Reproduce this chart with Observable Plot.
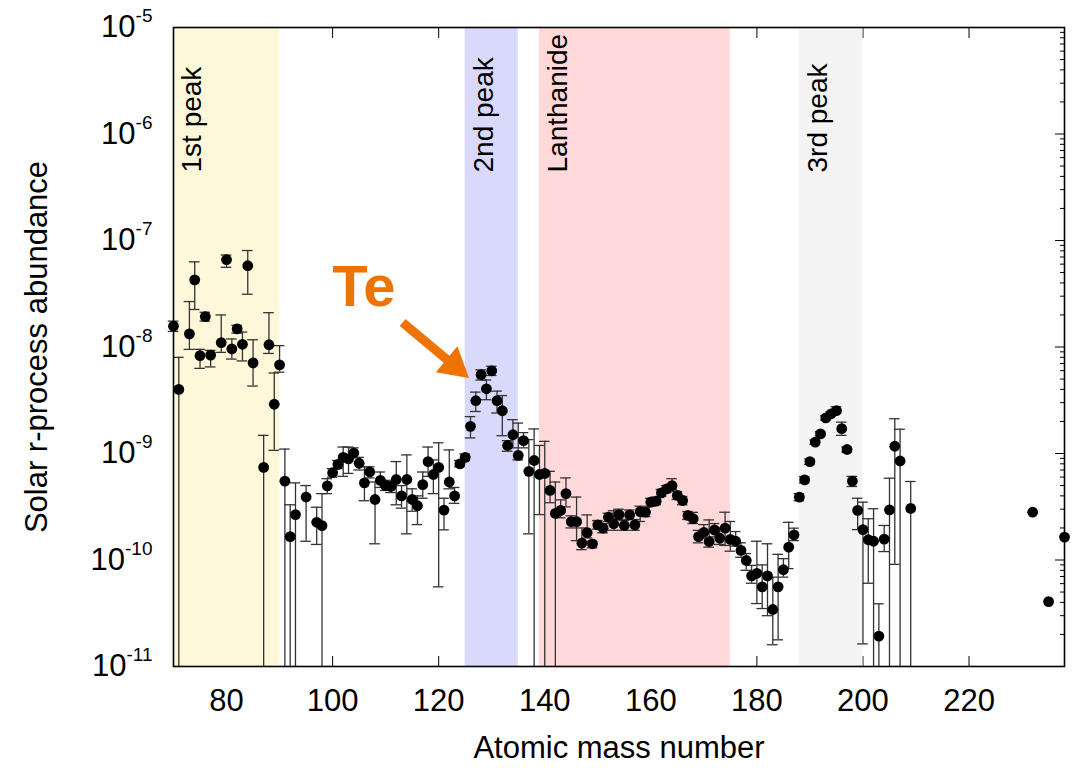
<!DOCTYPE html>
<html>
<head>
<meta charset="utf-8">
<script src="https://cdn.jsdelivr.net/npm/d3@7"></script>
<script src="https://cdn.jsdelivr.net/npm/@observablehq/plot@0.6"></script>
<style>
  html, body { margin: 0; padding: 0; background: #fff; }
</style>
</head>
<body>
<div id="chart"></div>
<script>
// Solar r-process abundances by atomic mass number, with uncertainty ranges.
// A lower bound of 0 means the uncertainty reaches below the plotted range.
const massNumber = [
  70, 71, 73, 74, 75, 76, 77, 79, 80, 81, 82, 83, 84, 85, 87, 88, 89, 90,
  91, 92, 93, 95, 97, 98, 99, 100, 101, 102, 103, 104, 105, 106, 107, 108, 109, 110,
  111, 112, 113, 114, 115, 116, 117, 118, 119, 120, 121, 122, 123, 124, 125, 126, 127, 128,
  129, 130, 131, 132, 133, 134, 135, 136, 137, 138, 139, 140, 141, 142, 143, 144, 145, 146,
  147, 148, 149, 150, 151, 152, 153, 154, 155, 156, 157, 158, 159, 160, 161, 162, 163, 164,
  165, 166, 167, 168, 169, 170, 171, 172, 173, 174, 175, 176, 177, 178, 179, 180, 181, 182,
  183, 184, 185, 186, 187, 188, 189, 190, 191, 192, 193, 194, 195, 196, 197, 198, 199, 200,
  201, 202, 203, 204, 205, 206, 207, 209, 232, 235, 238
];
const abundance = [
  1.57e-8, 4.0e-9, 1.33e-8, 4.27e-8, 8.3e-9, 1.93e-8, 8.4e-9, 1.10e-8, 6.6e-8, 9.6e-9, 1.48e-8, 1.06e-8, 5.8e-8, 7.1e-9, 7.4e-10, 1.05e-8, 2.9e-9, 6.8e-9,
  5.5e-10, 1.66e-10, 2.67e-10, 3.9e-10, 2.26e-10, 2.1e-10, 4.97e-10, 6.6e-10, 7.9e-10, 9.2e-10, 8.9e-10, 1.01e-9, 8.1e-10, 5.3e-10, 6.7e-10, 3.7e-10, 5.6e-10, 5.0e-10,
  4.9e-10, 5.7e-10, 4.0e-10, 5.7e-10, 3.7e-10, 3.23e-10, 5.1e-10, 8.4e-10, 6.35e-10, 7.4e-10, 2.94e-10, 5.4e-10, 4.0e-10, 8.0e-10, 9.2e-10, 1.8e-9, 3.13e-9, 5.5e-9,
  4.05e-9, 5.98e-9, 3.13e-9, 2.52e-9, 1.19e-9, 1.5e-9, 9.6e-10, 1.32e-9, 6.8e-10, 8.6e-10, 6.35e-10, 6.5e-10, 4.5e-10, 2.74e-10, 2.92e-10, 4.2e-10, 2.29e-10, 2.29e-10,
  1.44e-10, 1.81e-10, 1.42e-10, 2.14e-10, 1.99e-10, 2.52e-10, 2.19e-10, 2.67e-10, 2.11e-10, 2.65e-10, 2.14e-10, 2.85e-10, 2.81e-10, 3.49e-10, 3.57e-10, 4.27e-10, 4.66e-10, 5.0e-10,
  4.04e-10, 3.62e-10, 2.62e-10, 2.44e-10, 1.66e-10, 1.82e-10, 1.49e-10, 1.92e-10, 1.6e-10, 1.99e-10, 1.56e-10, 1.5e-10, 1.23e-10, 9.9e-11, 7.1e-11, 7.5e-11, 5.6e-11, 7.1e-11,
  3.43e-11, 5.6e-11, 8.1e-11, 1.32e-10, 1.72e-10, 3.89e-10, 5.66e-10, 8.4e-10, 1.28e-9, 1.53e-9, 2.16e-9, 2.36e-9, 2.53e-9, 1.71e-9, 1.09e-9, 5.5e-10, 2.92e-10, 1.93e-10,
  1.55e-10, 1.5e-10, 1.93e-11, 1.57e-10, 2.96e-10, 1.17e-9, 8.5e-10, 3.05e-10, 2.81e-10, 4.07e-11, 1.64e-10
];
const errLow = [
  1.40e-8, 0, 9.5e-9, 2.25e-8, 6.3e-9, 1.75e-8, 6.5e-9, 8.9e-9, 5.6e-8, 7.7e-9, 1.35e-8, 7.4e-9, 3.13e-8, 4.3e-9, 0, 8.7e-9, 1.07e-9, 5.8e-9,
  0, 0, 0, 1.5e-10, 1.4e-10, 0, 4.2e-10, 6.0e-10, 7.2e-10, 6.1e-10, 6.5e-10, 9.1e-10, 7.0e-10, 3.6e-10, 5.9e-10, 1.42e-10, 4.8e-10, 4.5e-10,
  4.3e-10, 3.3e-10, 3.07e-10, 1.76e-10, 2.87e-10, 2.15e-10, 3.8e-10, 6.1e-10, 4.2e-10, 5.6e-11, 1.92e-10, 4.66e-10, 3.4e-10, 7.5e-10, 8.6e-10, 1.4e-9, 2.48e-9, 4.9e-9,
  3.2e-9, 5.4e-9, 2.4e-9, 1.47e-9, 1.05e-9, 1.13e-9, 8.7e-10, 1.13e-9, 1.76e-10, 0, 2.67e-10, 0, 3.45e-10, 0, 2.49e-10, 3.15e-10, 2.0e-10, 1.52e-10,
  1.25e-10, 1.61e-10, 1.3e-10, 1.95e-10, 1.8e-10, 2.3e-10, 1.9e-10, 2.4e-10, 1.9e-10, 2.4e-10, 1.9e-10, 2.3e-10, 2.55e-10, 3.2e-10, 3.3e-10, 3.95e-10, 4.3e-10, 4.6e-10,
  3.7e-10, 3.3e-10, 2.4e-10, 2.2e-10, 1.45e-10, 1.6e-10, 1.32e-10, 1.65e-10, 1.4e-10, 1.37e-10, 1.21e-10, 1.35e-10, 1.06e-10, 8.0e-11, 6.05e-11, 3.9e-11, 3.5e-11, 3.0e-11,
  1.6e-11, 1.78e-11, 6.9e-11, 8.3e-11, 1.52e-10, 3.6e-10, 5.3e-10, 7.9e-10, 1.22e-9, 1.46e-9, 2.06e-9, 2.26e-9, 2.4e-9, 1.48e-9, 1.03e-9, 4.9e-10, 1.93e-10, 1.63e-11,
  6.05e-11, 0, 0, 1.2e-10, 0, 9.1e-11, 0, 0, null, null, null
];
const errHigh = [
  1.75e-8, 8.0e-9, 2.67e-8, 6.3e-8, 9.5e-9, 2.12e-8, 9.3e-9, 2.0e-8, 7.3e-8, 1.19e-8, 1.6e-8, 1.38e-8, 8.05e-8, 1.17e-8, 1.48e-9, 2.1e-8, 5.7e-9, 1.03e-8,
  1.1e-9, 3.3e-10, 5.3e-10, 5.0e-10, 3.13e-10, 4.2e-10, 5.8e-10, 7.2e-10, 8.6e-10, 1.15e-9, 1.15e-9, 1.13e-9, 9.2e-10, 7.5e-10, 7.5e-10, 5.4e-10, 6.7e-10, 5.6e-10,
  5.5e-10, 8.4e-10, 5.0e-10, 9.7e-10, 4.66e-10, 4.0e-10, 6.7e-10, 1.15e-9, 8.7e-10, 1.26e-9, 3.8e-10, 1.08e-9, 4.8e-10, 8.6e-10, 9.9e-10, 2.22e-9, 3.77e-9, 6.1e-9,
  4.9e-9, 6.6e-9, 3.85e-9, 3.5e-9, 1.32e-9, 2.08e-9, 1.93e-9, 1.57e-9, 1.35e-9, 1.7e-9, 1.19e-9, 1.3e-9, 6.8e-10, 5.4e-10, 3.67e-10, 5.9e-10, 2.6e-10, 3.9e-10,
  2.0e-10, 2.65e-10, 1.5e-10, 2.35e-10, 2.2e-10, 2.75e-10, 2.9e-10, 3.0e-10, 2.35e-10, 2.95e-10, 2.4e-10, 3.2e-10, 3.1e-10, 3.8e-10, 3.9e-10, 4.6e-10, 5.0e-10, 5.8e-10,
  4.4e-10, 3.95e-10, 2.85e-10, 2.8e-10, 1.9e-10, 2.15e-10, 2.38e-10, 2.2e-10, 2.0e-10, 2.81e-10, 2.3e-10, 1.85e-10, 1.45e-10, 1.15e-10, 8.9e-11, 1.5e-10, 9.0e-11, 1.42e-10,
  6.9e-11, 1.13e-10, 1.03e-10, 2.26e-10, 1.99e-10, 4.2e-10, 6.05e-10, 8.9e-10, 1.34e-9, 1.6e-9, 2.26e-9, 2.46e-9, 2.75e-9, 1.97e-9, 1.15e-9, 6.1e-10, 3.8e-10, 3.49e-10,
  2.44e-10, 3.03e-10, 3.88e-11, 2.11e-10, 5.86e-10, 2.12e-9, 1.69e-9, 5.46e-10, null, null, null
];

// Shaded mass regions and their names
const bandNames = ["1st peak", "2nd peak", "Lanthanide", "3rd peak"];
const bandStart = [70, 125, 139, 188];
const bandEnd = [90, 135, 175, 200];
const bandColors = ["#fff7da", "#d9d9fb", "#ffd9d9", "#f4f4f4"];

// Axis ticks
const xTicks = [80, 100, 120, 140, 160, 180, 200, 220];
const yExponents = [-11, -10, -9, -8, -7, -6, -5];

// Tellurium callout
const teLabel = [{A: 105.9, value: 3.62e-8, text: "Te"}];
const teArrow = [{A1: 113.2, v1: 1.70e-8, A2: 122.9, v2: 6.7e-9}];

const rows = massNumber.map((A, i) => ({A, value: abundance[i], lo: errLow[i], hi: errHigh[i]}));
const bands = bandNames.map((name, i) => ({name, start: bandStart[i], end: bandEnd[i], color: bandColors[i]}));
const yMin = 1e-11, yMax = 1e-5;
const yMajor = yExponents.map(e => Math.pow(10, e));
const yMinor = yExponents.slice(0, -1).flatMap(e => d3.range(2, 10).map(k => k * Math.pow(10, e)));
const withErr = rows.filter(d => d.hi != null);
const orange = "#ef7300";
const font = '"Liberation Sans", Arial, Helvetica, sans-serif';

const chart = Plot.plot({
  width: 1082,
  height: 768,
  marginLeft: 173,
  marginRight: 18,
  marginTop: 27,
  marginBottom: 102,
  x: {domain: [70, 238]},
  y: {type: "log", domain: [yMin, yMax]},
  style: {fontFamily: font, fontSize: "30px", color: "#000", background: "#fff", overflow: "visible"},
  marks: [
    // inward ticks on all four sides
    Plot.axisX({anchor: "bottom", ticks: xTicks, tickSize: 10, insetBottom: 10, fill: "none", label: null}),
    Plot.axisX({anchor: "top", ticks: xTicks, tickSize: 10, insetTop: 10, fill: "none", label: null}),
    Plot.axisY({anchor: "right", ticks: yMajor, tickSize: 10, insetRight: 10, fill: "none", label: null}),
    Plot.axisY({anchor: "right", ticks: yMinor, tickSize: 5, insetRight: 5, fill: "none", label: null}),
    Plot.axisY({anchor: "left", ticks: yMajor, tickSize: 10, insetLeft: 10, fill: "none", label: null}),
    Plot.axisY({anchor: "left", ticks: yMinor, tickSize: 5, insetLeft: 5, fill: "none", label: null}),

    // shaded regions
    Plot.rect(bands, {x1: "start", x2: "end", fill: "color"}),

    // tick labels and axis titles
    Plot.axisX({
      anchor: "bottom", ticks: xTicks, tickSize: 0, tickPadding: 22, fontSize: 31,
      label: "Atomic mass number", labelAnchor: "center", labelOffset: 91, labelArrow: "none"
    }),
    Plot.axisY({
      anchor: "left", ticks: yMajor, tickSize: 0, tickPadding: 21, fontSize: 31,
      tickFormat: d => `10^${Math.round(Math.log10(d))}`,
      label: "Solar r-process abundance", labelAnchor: "center", labelOffset: 149, labelArrow: "none"
    }),

    // uncertainty bars with caps
    Plot.ruleX(withErr, {x: "A", y1: d => Math.max(d.lo, yMin), y2: "hi", stroke: "#333", strokeWidth: 1.3}),
    Plot.ruleY(withErr, {y: "hi", x1: d => d.A - 1, x2: d => d.A + 1, stroke: "#333", strokeWidth: 1.3}),
    Plot.ruleY(withErr.filter(d => d.lo > 0), {y: "lo", x1: d => d.A - 1, x2: d => d.A + 1, stroke: "#333", strokeWidth: 1.3}),

    // abundances
    Plot.dot(rows, {x: "A", y: "value", r: 5.4, fill: "#000", stroke: "none"}),

    // region names
    Plot.text(bands, {
      x: "start", text: "name", rotate: -90, textAnchor: "start", frameAnchor: "top",
      dx: 8, dy: 145, fontSize: 28, fill: "#000"
    }),

    // Te callout
    Plot.link(teArrow, {x1: "A1", y1: "v1", x2: "A2", y2: "v2", stroke: orange, strokeWidth: 9}),
    Plot.dot(teArrow, {x: "A2", y: "v2", symbol: "triangle", r: 12.5, fill: orange, stroke: "none", rotate: 129.8}),
    Plot.text(teLabel, {x: "A", y: "value", text: "text", fill: orange, fontSize: 58, fontWeight: "bold"}),

    Plot.frame({stroke: "#000", strokeWidth: 1.6})
  ]
});

// Render exponents of the y tick labels as superscripts
chart.querySelectorAll('[aria-label="y-axis tick label"] text').forEach(el => {
  const [base, exp] = el.textContent.split("^");
  if (exp === undefined) return;
  el.textContent = base;
  const sup = document.createElementNS("http://www.w3.org/2000/svg", "tspan");
  sup.setAttribute("dy", "-15");
  sup.setAttribute("font-size", "19");
  sup.textContent = exp;
  el.appendChild(sup);
});

document.getElementById("chart").appendChild(chart);
</script>
</body>
</html>
